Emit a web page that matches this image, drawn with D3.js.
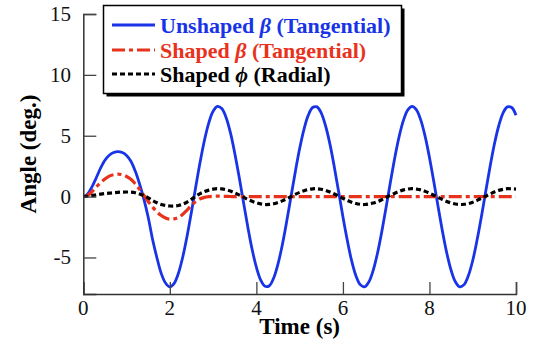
<!DOCTYPE html>
<html>
<head>
<meta charset="utf-8">
<script src="https://cdn.jsdelivr.net/npm/d3@7"></script>
<style>
  html, body { margin: 0; padding: 0; background: #fff; }
  svg { display: block; }
  text { font-family: "Liberation Serif", "Times New Roman", Times, serif; }
</style>
</head>
<body>
<svg id="chart" width="534" height="349"></svg>
<script>
// ---- data ----
const time = d3.range(0, 101).map(i => +(i / 10).toFixed(1)); // 0.0 .. 10.0 s, 0.1 s step

const unshapedBeta = [
  0.00, 0.22, 0.80, 1.55, 2.35, 2.99, 3.40, 3.62, 3.70, 3.62,
  3.38, 2.90, 2.10, 1.05, -0.20, -1.70, -3.50, -5.00, -6.30, -7.10,
  -7.42, -7.13, -6.28, -4.94, -3.22, -1.24, 0.83, 2.84, 4.63, 6.06,
  7.01, 7.41, 7.23, 6.50, 5.25, 3.57, 1.65, -0.42, -2.46, -4.31,
  -5.80, -6.86, -7.37, -7.32, -6.69, -5.53, -3.95, -2.05, 0.00, 2.05,
  3.95, 5.53, 6.69, 7.32, 7.37, 6.86, 5.80, 4.31, 2.46, 0.42,
  -1.65, -3.57, -5.25, -6.50, -7.23, -7.41, -7.00, -6.05, -4.63, -2.84,
  -0.83, 1.24, 3.22, 4.95, 6.28, 7.13, 7.42, 7.13, 6.28, 4.95,
  3.22, 1.24, -0.83, -2.84, -4.63, -6.05, -7.00, -7.41, -7.23, -6.49,
  -5.25, -3.57, -1.65, 0.42, 2.45, 4.30, 5.80, 6.86, 7.37, 7.32,
  6.68
];

const shapedBeta = [
  0.00, 0.10, 0.40, 0.80, 1.15, 1.45, 1.68, 1.80, 1.85, 1.80,
  1.65, 1.42, 1.05, 0.60, 0.10, -0.40, -0.85, -1.25, -1.55, -1.75,
  -1.85, -1.83, -1.70, -1.45, -1.10, -0.72, -0.40, -0.18, -0.06, 0.00,
  0.03, 0.04, 0.03, 0.02, 0.01, 0.00, 0.00, 0.00, 0.00, 0.00,
  0.00, 0.00, 0.00, 0.00, 0.00, 0.00, 0.00, 0.00, 0.00, 0.00,
  0.00, 0.00, 0.00, 0.00, 0.00, 0.00, 0.00, 0.00, 0.00, 0.00,
  0.00, 0.00, 0.00, 0.00, 0.00, 0.00, 0.00, 0.00, 0.00, 0.00,
  0.00, 0.00, 0.00, 0.00, 0.00, 0.00, 0.00, 0.00, 0.00, 0.00,
  0.00, 0.00, 0.00, 0.00, 0.00, 0.00, 0.00, 0.00, 0.00, 0.00,
  0.00, 0.00, 0.00, 0.00, 0.00, 0.00, 0.00, 0.00, 0.00, 0.00,
  0.00
];

const shapedPhi = [
  0.00, 0.03, 0.08, 0.14, 0.20, 0.25, 0.29, 0.32, 0.35, 0.37,
  0.38, 0.37, 0.32, 0.22, 0.08, -0.10, -0.32, -0.50, -0.64, -0.73,
  -0.77, -0.78, -0.73, -0.62, -0.45, -0.22, 0.03, 0.25, 0.41, 0.53,
  0.61, 0.65, 0.63, 0.57, 0.46, 0.31, 0.14, -0.04, -0.22, -0.38,
  -0.51, -0.60, -0.65, -0.64, -0.59, -0.48, -0.35, -0.18, 0.00, 0.18,
  0.35, 0.48, 0.59, 0.64, 0.65, 0.60, 0.51, 0.38, 0.22, 0.04,
  -0.14, -0.31, -0.46, -0.57, -0.63, -0.65, -0.61, -0.53, -0.41, -0.25,
  -0.07, 0.11, 0.28, 0.43, 0.55, 0.62, 0.65, 0.62, 0.55, 0.43,
  0.28, 0.11, -0.07, -0.25, -0.41, -0.53, -0.61, -0.65, -0.63, -0.57,
  -0.46, -0.31, -0.14, 0.04, 0.21, 0.38, 0.51, 0.60, 0.65, 0.64,
  0.62
];

const xTicks = [0, 2, 4, 6, 8, 10];
const yTicks = [-5, 0, 5, 10, 15];
const seriesNames = ["Unshaped", "Shaped", "Shaped"];
const seriesSymbols = ["\u03B2", "\u03B2", "\u03D5"];
const seriesSuffix = ["(Tangential)", "(Tangential)", "(Radial)"];
const seriesColors = ["#1834e6", "#e8321c", "#000000"];
const seriesDash = [null, "13,4,4,4", "5,3"];
const seriesWidth = [2.8, 3.2, 3.2];
const seriesValues = [unshapedBeta, shapedBeta, shapedPhi];

const SERIF = "'Liberation Serif', 'Times New Roman', Times, serif";

// ---- chart ----
const svg = d3.select("#chart");
const x = d3.scaleLinear().domain([0, 10]).range([83.3, 516]);
const y = d3.scaleLinear().domain([-8, 15]).range([294, 14]);

// series
const line = d3.line()
  .x(d => x(d[0]))
  .y(d => y(d[1]))
  .curve(d3.curveCatmullRom.alpha(0.5));

seriesValues.forEach((vals, i) => {
  const pts = time.map((t, j) => [t, vals[j]]);
  svg.append("path")
    .datum(pts)
    .attr("fill", "none")
    .attr("stroke", seriesColors[i])
    .attr("stroke-width", seriesWidth[i])
    .attr("stroke-dasharray", seriesDash[i])
    .attr("d", line);
});

// axes (inward ticks)
const xAxis = d3.axisTop(x).tickValues(xTicks).tickSize(12).tickFormat("");
const gx = svg.append("g").attr("transform", "translate(0,294)").call(xAxis);
const yAxis = d3.axisRight(y).tickValues(yTicks).tickSize(13).tickFormat("");
const gy = svg.append("g").attr("transform", "translate(83.3,0)").call(yAxis);
[gx, gy].forEach(g => {
  g.select(".domain").attr("stroke", "#333").attr("stroke-width", 1.5);
  g.selectAll(".tick line").attr("stroke", "#444").attr("stroke-width", 1.3);
});

// tick labels
svg.append("g").selectAll("text").data(xTicks).join("text")
  .attr("x", d => x(d)).attr("y", 315)
  .attr("text-anchor", "middle")
  .attr("font-family", SERIF)
  .attr("font-size", 21)
  .attr("fill", "#111")
  .text(d => d);

svg.append("g").selectAll("text").data(yTicks).join("text")
  .attr("x", 71).attr("y", d => y(d) + 7)
  .attr("text-anchor", "end")
  .attr("font-family", SERIF)
  .attr("font-size", 21)
  .attr("fill", "#111")
  .text(d => d);

// axis titles
svg.append("text")
  .attr("x", x(5)).attr("y", 334)
  .attr("text-anchor", "middle")
  .attr("font-family", SERIF)
  .attr("font-size", 23).attr("font-weight", "bold")
  .text("Time (s)");

svg.append("text")
  .attr("transform", "translate(36,154) rotate(-90)")
  .attr("text-anchor", "middle")
  .attr("font-family", SERIF)
  .attr("font-size", 23).attr("font-weight", "bold")
  .text("Angle (deg.)");

// legend
const lg = svg.append("g");
lg.append("rect").attr("x", 106.5).attr("y", 8.5).attr("width", 298).attr("height", 88).attr("fill", "#000");
lg.append("rect").attr("x", 103.5).attr("y", 5.5).attr("width", 298).attr("height", 88)
  .attr("fill", "#fff").attr("stroke", "#000").attr("stroke-width", 1.5);

const rowY = [25, 50, 74];
seriesNames.forEach((name, i) => {
  lg.append("line")
    .attr("x1", 112).attr("x2", 155)
    .attr("y1", rowY[i]).attr("y2", rowY[i])
    .attr("stroke", seriesColors[i])
    .attr("stroke-width", seriesWidth[i])
    .attr("stroke-dasharray", seriesDash[i]);
  const t = lg.append("text")
    .attr("x", 160).attr("y", rowY[i] + 7.5)
    .attr("font-family", SERIF)
    .attr("font-size", 22).attr("font-weight", "bold")
    .attr("fill", seriesColors[i]);
  t.append("tspan").text(name + " ");
  t.append("tspan").attr("font-style", "italic").text(seriesSymbols[i]);
  t.append("tspan").text(" " + seriesSuffix[i]);
});
</script>
</body>
</html>
